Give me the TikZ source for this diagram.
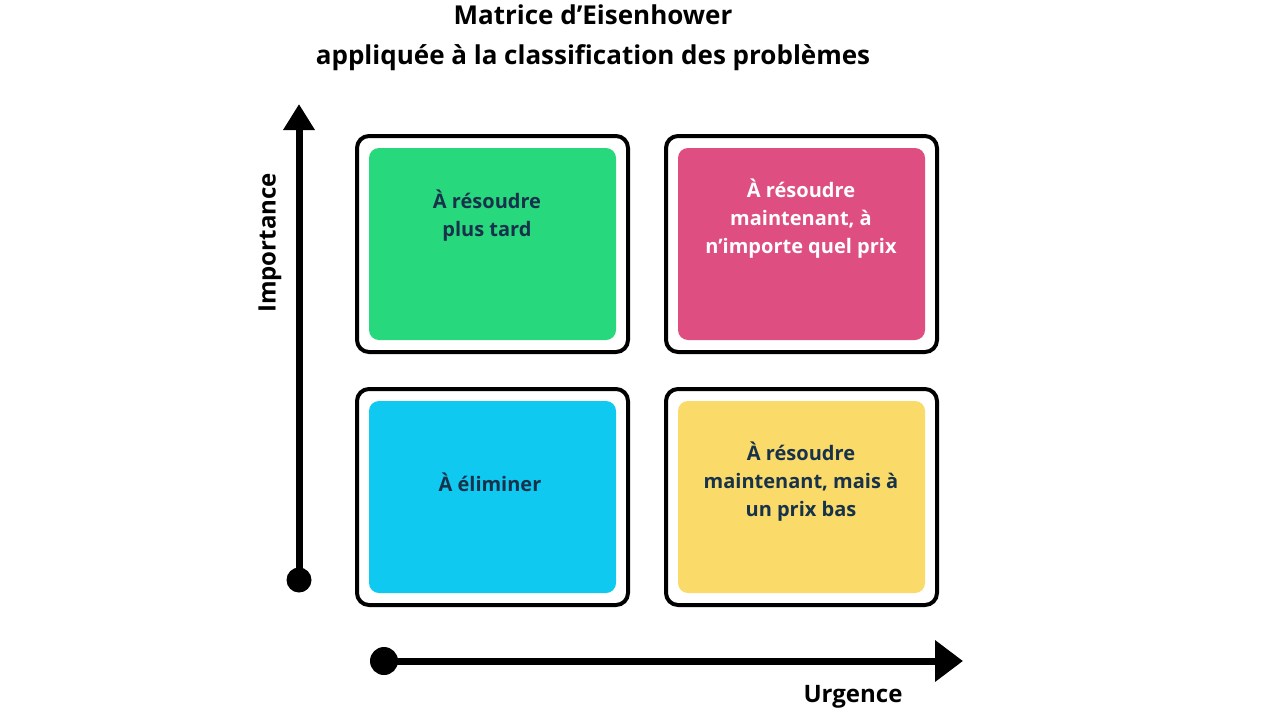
\documentclass[tikz,border=0pt]{standalone}
\usepackage{fontspec}
\setmainfont{Open Sans}
\usetikzlibrary{arrows.meta}
\definecolor{navy}{HTML}{17324A}
\definecolor{cgreen}{HTML}{27D97C}
\definecolor{cpink}{HTML}{DE4E80}
\definecolor{cblue}{HTML}{0FC9F0}
\definecolor{cyellow}{HTML}{FADA68}
\begin{document}
\begin{tikzpicture}[x=1pt,y=-1pt,
  outer/.style={draw=black,line width=4pt,rounded corners=12pt},
  inner/.style={rounded corners=10pt},
  lbl/.style={font=\bfseries\fontsize{20}{28}\selectfont,align=center,text=navy},
  axis/.style={line width=7pt}]
\useasboundingbox (0,0) rectangle (1280,720);
\node[font=\bfseries\fontsize{26}{40}\selectfont,align=center] (title) at (593,38) {Matrice d'Eisenhower\\appliquée à la classification des problèmes};
% boxes
\foreach \n/\x/\y/\c in {g/357/136/cgreen,p/666/136/cpink,b/357/389/cblue,y/666/389/cyellow}{
  \draw[outer] (\x,\y) rectangle ++(271,216);
  \fill[\c,inner] (\x+12,\y+12) rectangle ++(247,192);
}
\node[lbl] (tg) at (487,216) {À résoudre\\plus tard};
\node[lbl,text=white] (tp) at (801,219) {À résoudre\\maintenant, à\\n’importe quel prix};
\node[lbl] (tb) at (490,482) {À éliminer};
\node[lbl] (ty) at (801,482) {À résoudre\\maintenant, mais à\\un prix bas};
% axes
\coordinate (v0) at (299,580);
\coordinate (v1) at (299,104);
\coordinate (h0) at (384,661);
\coordinate (h1) at (963,661);
\fill (v0) circle (12.5);
\fill (h0) circle (14);
\draw[axis,-{Triangle[length=26pt,width=30pt]}] (v0) -- (v1);
\draw[axis,-{Triangle[length=28pt,width=40pt]}] (h0) -- (h1);
\node[font=\bfseries\fontsize{24}{28}\selectfont,rotate=90] (imp) at (270,243) {Importance};
\node[font=\bfseries\fontsize{24}{28}\selectfont] (urg) at (853,697) {Urgence};
\end{tikzpicture}
\end{document}
